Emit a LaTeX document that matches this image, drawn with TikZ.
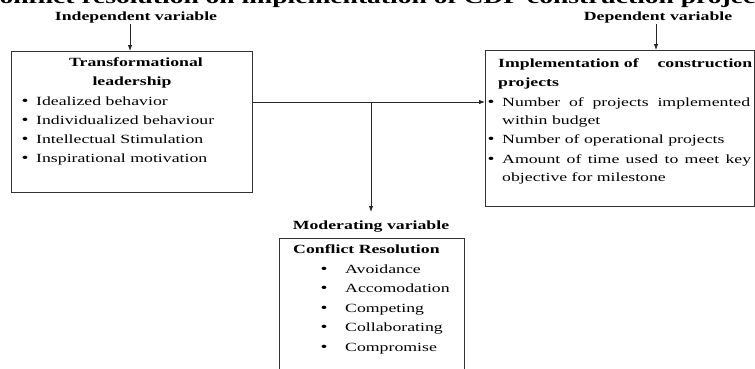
\documentclass[tikz,border=0pt]{standalone}
\usepackage{fontspec}
\setmainfont{Liberation Serif}[FakeStretch=1.42]
\usetikzlibrary{arrows.meta}
\begin{document}
\begin{tikzpicture}[x=1pt,y=-1pt,
  box/.style={draw=black!80,line width=0.9pt,inner sep=0pt,anchor=north west},
  lbl/.style={inner sep=0pt,anchor=base,font=\fontsize{12.5}{15}\selectfont\bfseries},
  hd/.style={inner sep=0pt,anchor=base west,font=\fontsize{12.5}{15}\selectfont\bfseries},
  txt/.style={inner sep=0pt,anchor=base west,font=\fontsize{12.5}{15}\selectfont},
  bul/.style={inner sep=0pt,anchor=base,font=\fontsize{14}{15}\selectfont},
  arr/.style={draw=black!85,line width=0.9pt,-{Latex[length=6pt,width=4.5pt]}},
  ln/.style={draw=black!85,line width=0.9pt}]
\useasboundingbox (0,0) rectangle (755,368);
\clip (0,0) rectangle (755,368);
\fill[white] (0,0) rectangle (755,368);

% title (cut off at the top)
\node[anchor=base,inner sep=0pt,font=\fontsize{19.4}{20}\selectfont\bfseries] (title) at (377.5,3.5)
  {Conflict resolution on implementation of CDF construction projects};

% variable labels
\node[lbl] (iv) at (136,20) {Independent variable};
\node[lbl] (dv) at (658,20) {Dependent variable};
\node[lbl] (mv) at (371,229) {Moderating variable};

% boxes
\node[box,minimum width=241pt,minimum height=141pt] (tl) at (11,51) {};
\node[box,minimum width=269pt,minimum height=156pt] (ip) at (485,50) {};
\node[box,minimum width=185pt,minimum height=160pt] (cr) at (279,238) {};

% left box text
\node[lbl] (t1) at (136,66) {Transformational};
\node[lbl] (t2) at (132,85) {leadership};
\node[bul] (b1) at (25,105) {•};
\node[txt] (l1) at (36,105) {Idealized behavior};
\node[bul] (b2) at (25,124) {•};
\node[txt] (l2) at (36,124) {Individualized behaviour};
\node[bul] (b3) at (25,143) {•};
\node[txt] (l3) at (36,143) {Intellectual Stimulation};
\node[bul] (b4) at (25,162) {•};
\node[txt] (l4) at (36,162) {Inspirational motivation};

% right box text
\node[hd] (r0) at (498,67) {\makebox[254pt][s]{Implementation of\hfill construction}};
\node[hd] (r1) at (498,86) {projects};
\node[bul] (rb1) at (491,106) {•};
\node[txt] (r2) at (502,106) {\makebox[248pt][s]{Number of projects implemented}};
\node[txt] (r3) at (502,124) {within budget};
\node[bul] (rb2) at (491,143) {•};
\node[txt] (r4) at (502,143) {Number of operational projects};
\node[bul] (rb3) at (491,163) {•};
\node[txt] (r5) at (502,163) {\makebox[249pt][s]{Amount of time used to meet key}};
\node[txt] (r6) at (502,181) {objective for milestone};

% bottom box text
\node[hd] (c0) at (293,253) {Conflict Resolution};
\node[bul] (cb1) at (324,273) {•};
\node[txt] (c1) at (345,273) {Avoidance};
\node[bul] (cb2) at (324,292) {•};
\node[txt] (c2) at (345,292) {Accomodation};
\node[bul] (cb3) at (324,312) {•};
\node[txt] (c3) at (345,312) {Competing};
\node[bul] (cb4) at (324,331) {•};
\node[txt] (c4) at (345,331) {Collaborating};
\node[bul] (cb5) at (324,351) {•};
\node[txt] (c5) at (345,351) {Compromise};

% connectors
\coordinate (a1) at (130,24);
\coordinate (a2) at (656,24);
\coordinate (hy) at (0,102);
\coordinate (j) at (371,102);
\coordinate (mt) at (371,212);
\draw[arr] (a1) -- (a1 |- tl.north);
\draw[arr] (a2) -- (a2 |- ip.north);
\draw[arr] (tl.east |- hy) -- (ip.west |- hy);
\draw[arr] (j) -- (mt);
\end{tikzpicture}
\end{document}
